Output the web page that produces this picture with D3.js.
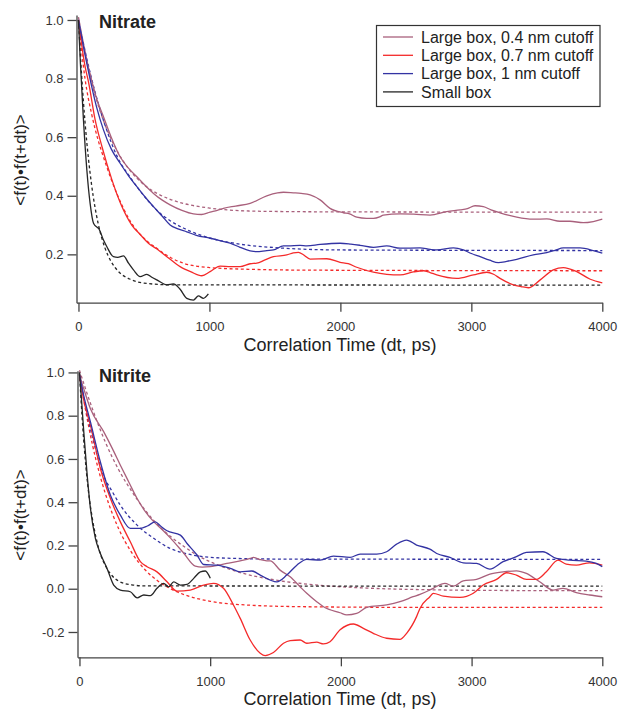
<!DOCTYPE html>
<html>
<head>
<meta charset="utf-8">
<script src="https://cdn.jsdelivr.net/npm/d3@7"></script>
<style>
  body { margin: 0; background: #fff; }
  svg { display: block; font-family: "Liberation Sans", Arial, sans-serif; }
</style>
</head>
<body>
<div class="board"></div>
<script>
// ---- data (dt in ps, correlation value) ----
let timeTicks = [0, 1000, 2000, 3000, 4000];
let nitrateTicks = [0.2, 0.4, 0.6, 0.8, 1.0];
let nitriteTicks = [-0.2, 0.0, 0.2, 0.4, 0.6, 0.8, 1.0];

let seriesNames = ['Large box, 0.4 nm cutoff', 'Large box, 0.7 nm cutoff', 'Large box, 1 nm cutoff', 'Small box'];
let seriesColors = ['#a9607c', '#f42a2a', '#3333a3', '#262626'];

// Nitrate, simulation curves
let nitrate04 = [[0,1.0],[38,0.91],[89,0.815],[140,0.73],[191,0.67],[250,0.6],[318,0.533],[380,0.495],[446,0.465],[510,0.435],[573,0.408],[640,0.385],[700,0.369],[790,0.35],[878,0.338],[940,0.336],[1005,0.344],[1060,0.35],[1107,0.357],[1200,0.365],[1311,0.374],[1438,0.4],[1520,0.41],[1565,0.412],[1641,0.41],[1700,0.408],[1769,0.403],[1845,0.386],[1921,0.357],[2023,0.342],[2070,0.338],[2125,0.327],[2200,0.323],[2252,0.323],[2300,0.328],[2328,0.334],[2456,0.338],[2560,0.337],[2685,0.334],[2812,0.346],[2914,0.352],[2970,0.356],[3028,0.366],[3092,0.363],[3150,0.352],[3219,0.342],[3290,0.333],[3347,0.327],[3473,0.32],[3576,0.321],[3677,0.313],[3753,0.313],[3855,0.308],[3931,0.312],[4000,0.32]];
let nitrate07 = [[0,1.0],[51,0.84],[76,0.79],[127,0.66],[178,0.57],[255,0.455],[325,0.37],[407,0.3],[471,0.268],[534,0.238],[600,0.218],[675,0.192],[776,0.158],[860,0.14],[942,0.127],[1005,0.141],[1082,0.16],[1160,0.158],[1234,0.158],[1311,0.168],[1362,0.17],[1420,0.18],[1489,0.192],[1591,0.198],[1640,0.205],[1680,0.207],[1720,0.198],[1769,0.184],[1896,0.185],[1998,0.173],[2060,0.168],[2125,0.156],[2252,0.139],[2354,0.132],[2456,0.13],[2557,0.14],[2634,0.144],[2685,0.138],[2736,0.13],[2889,0.118],[3016,0.13],[3118,0.139],[3170,0.132],[3219,0.118],[3321,0.096],[3380,0.09],[3435,0.086],[3526,0.113],[3626,0.147],[3702,0.155],[3805,0.141],[3908,0.115],[4000,0.103]];
let nitrate10 = [[0,1.0],[69,0.84],[140,0.7],[191,0.625],[250,0.56],[318,0.511],[380,0.47],[446,0.431],[510,0.395],[573,0.363],[640,0.33],[700,0.3],[760,0.287],[827,0.277],[900,0.265],[1005,0.255],[1080,0.247],[1158,0.238],[1234,0.224],[1311,0.212],[1360,0.209],[1438,0.213],[1489,0.215],[1565,0.229],[1600,0.229],[1692,0.231],[1744,0.229],[1845,0.234],[1998,0.238],[2080,0.235],[2150,0.231],[2252,0.224],[2354,0.229],[2456,0.221],[2608,0.222],[2685,0.217],[2736,0.215],[2863,0.222],[2939,0.215],[3000,0.203],[3067,0.192],[3140,0.18],[3206,0.172],[3270,0.176],[3347,0.183],[3473,0.198],[3576,0.206],[3640,0.214],[3702,0.222],[3830,0.222],[3931,0.213],[4000,0.204]];
let nitrateSmall = [[0,1.0],[15,0.85],[38,0.66],[64,0.488],[89,0.374],[115,0.306],[140,0.293],[153,0.289],[191,0.249],[217,0.226],[267,0.192],[300,0.19],[344,0.195],[382,0.17],[420,0.147],[471,0.124],[522,0.132],[560,0.122],[598,0.113],[675,0.096],[725,0.099],[776,0.081],[827,0.05],[878,0.044],[916,0.058],[954,0.05],[992,0.065]];

// Nitrate, fitted curves (dotted)
let nitrate04Fit = [[0,1.01],[100,0.789],[200,0.646],[300,0.549],[400,0.483],[500,0.438],[600,0.408],[700,0.388],[800,0.374],[1000,0.358],[1300,0.348],[1600,0.346],[2000,0.345],[4000,0.344]];
let nitrate07Fit = [[0,1.0],[50,0.8],[100,0.68],[150,0.59],[200,0.52],[300,0.4],[400,0.31],[500,0.255],[600,0.22],[700,0.19],[800,0.17],[1000,0.155],[1300,0.149],[1800,0.146],[4000,0.144]];
let nitrate10Fit = [[0,1.0],[100,0.8],[200,0.645],[300,0.53],[400,0.46],[500,0.4],[600,0.35],[700,0.315],[800,0.29],[1000,0.256],[1200,0.237],[1500,0.223],[2000,0.215],[4000,0.213]];
let nitrateSmallFit = [[0,1.0],[25,0.805],[50,0.652],[75,0.532],[100,0.438],[150,0.306],[200,0.225],[250,0.175],[300,0.144],[400,0.114],[500,0.102],[700,0.096],[4000,0.095]];

// Nitrite, simulation curves
let nitrite04 = [[0,0.99],[30,0.93],[84,0.832],[186,0.725],[250,0.65],[313,0.571],[380,0.49],[441,0.417],[500,0.36],[568,0.31],[630,0.275],[695,0.235],[797,0.165],[886,0.105],[940,0.1],[1001,0.102],[1128,0.117],[1230,0.129],[1306,0.14],[1331,0.145],[1380,0.135],[1433,0.129],[1459,0.129],[1535,0.086],[1612,0.055],[1688,0.009],[1739,-0.021],[1815,-0.06],[1867,-0.083],[1994,-0.111],[2045,-0.121],[2121,-0.114],[2198,-0.086],[2350,-0.075],[2452,-0.06],[2553,-0.037],[2605,-0.026],[2681,-0.006],[2707,0.002],[2796,0.025],[2860,0.012],[2936,0.036],[3038,0.043],[3140,0.068],[3241,0.078],[3343,0.083],[3419,0.071],[3521,0.032],[3623,-0.006],[3699,0.002],[3801,-0.018],[3903,-0.029],[4000,-0.037]];
let nitrite07 = [[0,0.99],[30,0.88],[84,0.755],[160,0.556],[237,0.417],[313,0.309],[389,0.217],[466,0.125],[517,0.102],[593,0.078],[670,0.032],[746,-0.011],[848,-0.006],[950,0.017],[1026,0.025],[1102,0.002],[1178,-0.075],[1230,-0.137],[1306,-0.237],[1383,-0.298],[1421,-0.309],[1484,-0.295],[1561,-0.252],[1612,-0.24],[1688,-0.237],[1739,-0.252],[1815,-0.247],[1867,-0.255],[1917,-0.245],[1994,-0.19],[2096,-0.163],[2172,-0.183],[2248,-0.206],[2350,-0.229],[2452,-0.234],[2503,-0.206],[2579,-0.129],[2605,-0.091],[2681,-0.037],[2707,-0.021],[2784,-0.034],[2911,-0.04],[3013,-0.021],[3089,0.017],[3191,0.043],[3267,0.074],[3343,0.063],[3419,0.043],[3496,0.043],[3572,0.078],[3661,0.132],[3724,0.114],[3801,0.109],[3903,0.12],[4000,0.109]];
let nitrite10 = [[0,0.99],[30,0.9],[84,0.771],[160,0.586],[237,0.432],[313,0.34],[389,0.279],[466,0.279],[520,0.29],[580,0.309],[620,0.29],[670,0.268],[772,0.248],[823,0.209],[899,0.156],[950,0.112],[1052,0.109],[1154,0.094],[1230,0.078],[1319,0.082],[1383,0.063],[1510,0.032],[1586,0.063],[1663,0.109],[1739,0.136],[1841,0.132],[1943,0.151],[2070,0.145],[2147,0.16],[2274,0.16],[2350,0.171],[2426,0.206],[2503,0.225],[2579,0.202],[2681,0.183],[2733,0.163],[2834,0.145],[2936,0.12],[3038,0.117],[3140,0.091],[3241,0.125],[3343,0.148],[3419,0.168],[3546,0.171],[3648,0.14],[3750,0.132],[3877,0.128],[3954,0.117],[4000,0.102]];
let nitriteSmall = [[0,1.0],[15,0.88],[33,0.725],[59,0.525],[84,0.371],[122,0.233],[160,0.163],[211,0.094],[262,0.017],[313,-0.006],[389,-0.014],[441,-0.042],[492,-0.029],[542,-0.032],[593,0.002],[644,0.025],[682,0.009],[721,0.032],[772,0.017],[823,0.02],[874,0.048],[925,0.078],[963,0.082],[1001,0.048]];

// Nitrite, fitted curves (dotted)
let nitrite04Fit = [[0,1.01],[100,0.83],[200,0.675],[300,0.55],[400,0.45],[500,0.365],[600,0.295],[700,0.24],[800,0.195],[900,0.155],[1000,0.125],[1200,0.08],[1500,0.04],[1800,0.018],[2200,0.003],[2700,-0.005],[3200,-0.008],[4000,-0.009]];
let nitrite07Fit = [[0,0.99],[50,0.815],[100,0.664],[150,0.54],[200,0.436],[300,0.277],[400,0.167],[500,0.089],[600,0.036],[700,-0.001],[800,-0.027],[1000,-0.058],[1300,-0.076],[1700,-0.083],[2500,-0.086],[4000,-0.086]];
let nitrite10Fit = [[0,0.99],[50,0.83],[100,0.7],[183,0.525],[250,0.45],[313,0.386],[441,0.294],[568,0.233],[695,0.186],[800,0.165],[950,0.148],[1200,0.14],[1600,0.137],[4000,0.136]];
let nitriteSmallFit = [[0,1.0],[25,0.75],[50,0.56],[75,0.42],[100,0.32],[150,0.18],[200,0.105],[250,0.06],[300,0.035],[400,0.018],[500,0.013],[4000,0.012]];

/////// SETUP ///////////////////////////////////////

let svg = d3.select('.board').append('svg')
    .attr('width', 618)
    .attr('height', 709);

let axisColor = '#444';
let textColor = '#222';

let drawPanel = function(cfg) {
  let x = d3.scaleLinear().domain([-15, 4000]).range([cfg.x0, 602.3]);
  let y = d3.scaleLinear().domain(cfg.yDomain).range([cfg.yBottom, cfg.yTop]);
  let g = svg.append('g');

  let line = d3.line()
      .x(d => x(d[0]))
      .y(d => y(d[1]))
      .curve(d3.curveMonotoneX);

  // fits first (dotted), then data
  cfg.fits.forEach((s, i) => {
    g.append('path')
        .attr('d', line(s))
        .attr('fill', 'none')
        .attr('stroke', seriesColors[i])
        .attr('stroke-width', 1.3)
        .attr('stroke-dasharray', '3,2.6');
  });
  cfg.series.forEach((s, i) => {
    g.append('path')
        .attr('d', line(s))
        .attr('fill', 'none')
        .attr('stroke', seriesColors[i])
        .attr('stroke-width', 1.3)
        .attr('stroke-linejoin', 'round');
  });

  let xAxis = g.append('g')
      .attr('transform', `translate(0,${cfg.yBottom})`)
      .call(d3.axisBottom(x).tickValues(timeTicks).tickFormat(d3.format('d'))
          .tickSize(9).tickSizeOuter(0).tickPadding(10));
  let yAxis = g.append('g')
      .attr('transform', `translate(${cfg.x0},0)`)
      .call(d3.axisLeft(y).tickValues(cfg.yTicks).tickFormat(d => d.toFixed(1))
          .tickSize(9).tickSizeOuter(0).tickPadding(4));

  [xAxis, yAxis].forEach(a => {
    a.selectAll('path, line').attr('stroke', axisColor).attr('stroke-width', 1.3);
    a.selectAll('text')
        .attr('fill', '#333')
        .style('font-size', '13px')
        .style('font-family', '"Liberation Sans", Arial, sans-serif');
  });

  g.append('text')
      .attr('x', 340)
      .attr('y', cfg.yBottom + 48)
      .attr('text-anchor', 'middle')
      .attr('fill', textColor)
      .style('font-size', '18px')
      .text('Correlation Time (dt, ps)');

  g.append('text')
      .attr('transform', `translate(26,${cfg.labelY}) rotate(-90)`)
      .attr('text-anchor', 'middle')
      .attr('fill', textColor)
      .style('font-size', '17px')
      .text('<f(t)\u2022f(t+dt)>');

  g.append('text')
      .attr('x', 99)
      .attr('y', cfg.titleY)
      .attr('fill', textColor)
      .style('font-size', '18px')
      .style('font-weight', 'bold')
      .text(cfg.title);
};

drawPanel({
  title: 'Nitrate', titleY: 27.5,
  x0: 76.5, yTop: 15, yBottom: 302.7, yDomain: [0.035, 1.017],
  yTicks: nitrateTicks, labelY: 160,
  series: [nitrate04, nitrate07, nitrate10, nitrateSmall],
  fits: [nitrate04Fit, nitrate07Fit, nitrate10Fit, nitrateSmallFit]
});

drawPanel({
  title: 'Nitrite', titleY: 381.5,
  x0: 77.5, yTop: 370.7, yBottom: 657.3, yDomain: [-0.317, 1.008],
  yTicks: nitriteTicks, labelY: 515,
  series: [nitrite04, nitrite07, nitrite10, nitriteSmall],
  fits: [nitrite04Fit, nitrite07Fit, nitrite10Fit, nitriteSmallFit]
});

/////// LEGEND ///////////////////////////////////////

let legend = svg.append('g');
legend.append('rect')
    .attr('x', 376.5).attr('y', 25.5)
    .attr('width', 223.5).attr('height', 81)
    .attr('fill', '#fff')
    .attr('stroke', '#333')
    .attr('stroke-width', 1.2);

let rows = legend.selectAll('g.row')
    .data(seriesNames)
    .enter().append('g')
    .attr('class', 'row')
    .attr('transform', (d, i) => `translate(0,${37 + i * 18.3})`);
rows.append('line')
    .attr('x1', 383).attr('x2', 413)
    .attr('stroke', (d, i) => seriesColors[i])
    .attr('stroke-width', 1.3);
rows.append('text')
    .attr('x', 421)
    .attr('dy', '0.36em')
    .attr('fill', textColor)
    .style('font-size', '16px')
    .text(d => d);
</script>
</body>
</html>
